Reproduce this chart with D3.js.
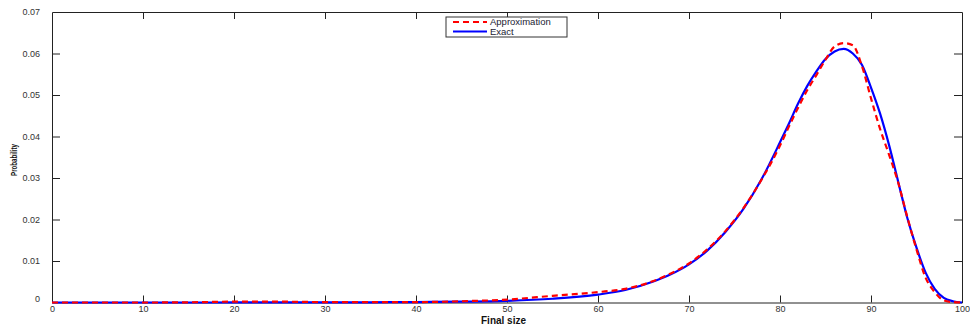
<!DOCTYPE html>
<html>
<head>
<meta charset="utf-8">
<script src="https://cdn.jsdelivr.net/npm/d3@7"></script>
<style>
  body { margin: 0; background: #fff; }
  svg { display: block; font-family: "Liberation Sans", Arial, sans-serif; }
</style>
</head>
<body>
<div id="chart"></div>
<script>
// final size grid (x) shared by both series
const sizes = [0, 5, 10, 15, 20, 25, 30, 35, 40, 45, 50, 55, 60, 63, 66, 68, 70, 72, 74, 76, 78,
  80, 81, 82, 83, 84, 85, 86, 87, 88, 89, 90, 91, 92, 93, 94, 95, 96, 97, 98, 99, 100];

const exact = [0, 0, 0, 0, 0.00001, 0.00002, 0.00003, 0.00005, 0.0001, 0.0002, 0.0004, 0.0009, 0.0019,
  0.0030, 0.0050, 0.0068, 0.0092, 0.0125, 0.0170, 0.0226, 0.0298,
  0.0386, 0.0432, 0.0480, 0.0522, 0.0557, 0.0587, 0.0605, 0.0611, 0.0600, 0.0573, 0.0518,
  0.0455, 0.0378, 0.0290, 0.0203, 0.0132, 0.0072, 0.0033, 0.0011, 0.0003, 0];

const approximation = [0, 0, 0, 0.00005, 0.0002, 0.0002, 0.0001, 0.0001, 0.0001, 0.0003, 0.0007, 0.0016, 0.0025,
  0.0033, 0.0051, 0.0070, 0.0094, 0.0128, 0.0172, 0.0228, 0.0297,
  0.0378, 0.0425, 0.0470, 0.0512, 0.0548, 0.0585, 0.0617, 0.0625, 0.0620, 0.0570, 0.0492,
  0.0418, 0.0355, 0.0288, 0.0205, 0.0128, 0.0060, 0.0025, 0.0005, 0.0001, 0];

const xTicks = [0, 10, 20, 30, 40, 50, 60, 70, 80, 90, 100];
const yTicks = [0, 0.01, 0.02, 0.03, 0.04, 0.05, 0.06, 0.07];

const seriesNames = ["Approximation", "Exact"];

const width = 970, height = 327;
const margin = {top: 12, right: 8, bottom: 24, left: 52};

const svg = d3.select("#chart").append("svg")
  .attr("width", width)
  .attr("height", height);

const x = d3.scaleLinear().domain([0, 100]).range([margin.left, width - margin.right]);
const y = d3.scaleLinear().domain([0, 0.07]).range([height - margin.bottom - 0.5, margin.top]);

const axisColor = "#222";
const fmtY = d => d === 0 ? "0" : d3.format(".2f")(d);

// tick marks on all four sides, pointing inward
const xAxis = svg.append("g")
  .attr("transform", `translate(0, ${y(0)})`)
  .call(d3.axisBottom(x).tickValues(xTicks).tickSizeInner(-7).tickSizeOuter(0).tickPadding(3).tickFormat(d3.format("d")));
const xTop = svg.append("g")
  .attr("transform", `translate(0, ${y(0.07)})`)
  .call(d3.axisTop(x).tickValues(xTicks).tickSizeInner(-7).tickSizeOuter(0).tickFormat(""));
const yAxis = svg.append("g")
  .attr("transform", `translate(${x(0)}, 0)`)
  .call(d3.axisLeft(y).tickValues(yTicks).tickSizeInner(-8).tickSizeOuter(0).tickPadding(12).tickFormat(fmtY));
const yRight = svg.append("g")
  .attr("transform", `translate(${x(100)}, 0)`)
  .call(d3.axisRight(y).tickValues(yTicks).tickSizeInner(-8).tickSizeOuter(0).tickFormat(""));

[xAxis, xTop, yAxis, yRight].forEach(g => {
  g.select(".domain").attr("stroke", axisColor).attr("stroke-width", 1);
  g.selectAll(".tick line").attr("stroke", axisColor);
  g.selectAll(".tick text")
    .attr("fill", "#333")
    .attr("font-size", 9)
    .attr("font-family", "Liberation Sans, Arial, sans-serif");
});
// hide ticks at the box corners
xAxis.selectAll(".tick line").filter(d => d === 0 || d === 100).remove();
xTop.selectAll(".tick line").filter(d => d === 0 || d === 100).remove();
yAxis.selectAll(".tick line").filter(d => d === 0 || d === 0.07).remove();
yRight.selectAll(".tick line").filter(d => d === 0 || d === 0.07).remove();
yAxis.selectAll(".tick text").filter(d => d === 0).attr("dy", "-0.1em");

const line = d3.line()
  .x((d, i) => x(sizes[i]))
  .y(d => y(d))
  .curve(d3.curveMonotoneX);

svg.append("path")
  .datum(exact)
  .attr("fill", "none")
  .attr("stroke", "#0000ff")
  .attr("stroke-width", 2.2)
  .attr("d", line);

svg.append("path")
  .datum(approximation)
  .attr("fill", "none")
  .attr("stroke", "#ff0000")
  .attr("stroke-width", 2.2)
  .attr("stroke-dasharray", "6,4")
  .attr("d", line);

// axis titles
svg.append("text")
  .attr("x", 481)
  .attr("y", 324)
  .attr("font-size", 10)
  .attr("font-weight", "bold")
  .attr("fill", "#111")
  .text("Final size");

svg.append("text")
  .attr("transform", "translate(17, 160) rotate(-90)")
  .attr("text-anchor", "middle")
  .attr("font-size", 9)
  .attr("font-weight", "bold")
  .attr("fill", "#111")
  .attr("textLength", 32)
  .attr("lengthAdjust", "spacingAndGlyphs")
  .text("Probability");

// legend
const legend = svg.append("g").attr("transform", "translate(446, 17)");
legend.append("rect")
  .attr("width", 121)
  .attr("height", 20)
  .attr("fill", "#fff")
  .attr("stroke", "#333")
  .attr("stroke-width", 1);
const styles = [
  {color: "#ff0000", dash: "6,4"},
  {color: "#0000ff", dash: null}
];
seriesNames.forEach((name, i) => {
  const ly = 5 + i * 9.5;
  legend.append("line")
    .attr("x1", 7).attr("x2", 41)
    .attr("y1", ly).attr("y2", ly)
    .attr("stroke", styles[i].color)
    .attr("stroke-width", 2.2)
    .attr("stroke-dasharray", styles[i].dash);
  legend.append("text")
    .attr("x", 44)
    .attr("y", ly + 3.2)
    .attr("font-size", 9.5)
    .attr("fill", "#223")
    .text(name);
});
</script>
</body>
</html>
